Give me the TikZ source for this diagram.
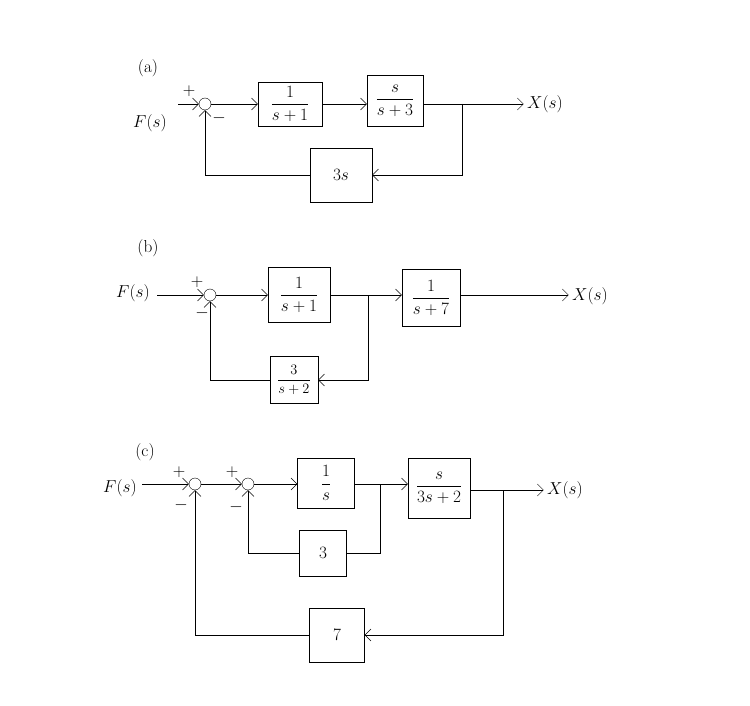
\documentclass[tikz,border=0pt]{standalone}
\usepackage{amsmath}
\usetikzlibrary{positioning, arrows.meta}
\begin{document}
\begin{tikzpicture}[x=1pt,y=-1pt,font=\LARGE]
\tikzstyle{blk} = [draw, minimum width=58pt, minimum height=50pt, inner sep=1pt, font=\LARGE]
\tikzstyle{sum} = [draw, shape=circle, minimum size=12pt, inner sep=0pt]
\tikzstyle{sig} = [-{Straight Barb[length=6pt,width=12pt]}]
\useasboundingbox (0,0) rectangle (750,706);

% (a)
\node at (148,68) {(a)};
\node (Fa) at (150,123) {$F(s)$};
\coordinate (ina) at (178,104);
\node (sa) [sum] at (205,104) {};
\node at (189,91) {$+$};
\node at (219,118) {$-$};
\node (a1) [blk, minimum width=64pt, minimum height=44pt] at (290,104) {$\dfrac{1}{s+1}$};
\node (a2) [blk, minimum width=56pt, minimum height=51pt] at (395,101) {$\dfrac{s}{s+3}$};
\node (a3) [blk, minimum width=62pt, minimum height=54pt] at (341,175) {$3s$};
\node (Xa) at (545,104) {$X(s)$};
\coordinate (ba) at (462,104);
  \draw [sig] (ina) -- (sa);
  \draw [sig] (sa) -- (a1);
  \draw [sig] (a1) -- (a1 -| a2.west);
  \draw [sig] (a1 -| a2.east) -- (Xa);
  \draw [sig] (ba) |- (a3);
  \draw [sig] (a3.west) -| (sa);

% (b)
\node at (148,248) {(b)};
\node (Fb) at (133,293) {$F(s)$};
\coordinate (inb) at (157,295);
\node (sb) [sum] at (210,295) {};
\node at (197,282) {$+$};
\node at (202,313) {$-$};
\node (b1) [blk, minimum width=62pt, minimum height=55pt] at (299,295) {$\dfrac{1}{s+1}$};
\node (b2) [blk, minimum width=58pt, minimum height=57pt] at (431,298) {$\dfrac{1}{s+7}$};
\node (b3) [blk, minimum width=48pt, minimum height=47pt, font=\Large] at (294,380) {$\dfrac{3}{s+2}$};
\node (Xb) at (590,296) {$X(s)$};
\coordinate (bb) at (368,295);
  \draw [sig] (inb) -- (sb);
  \draw [sig] (sb) -- (b1);
  \draw [sig] (b1) -- (b1 -| b2.west);
  \draw [sig] (b1 -| b2.east) -- (Xb.west |- b1);
  \draw [sig] (bb) |- (b3);
  \draw [sig] (b3.west) -| (sb);

% (c)
\node at (145,452) {(c)};
\node (Fc) at (120,488) {$F(s)$};
\coordinate (inc) at (142,484);
\node (c1s) [sum] at (195,484) {};
\node (c2s) [sum] at (248,484) {};
\node at (179,472) {$+$};
\node at (181,505) {$-$};
\node at (232,472) {$+$};
\node at (236,507) {$-$};
\node (c1) [blk, minimum width=57pt, minimum height=50pt] at (326,483) {$\dfrac{1}{s}$};
\node (c2) [blk, minimum width=62pt, minimum height=60pt] at (439,488) {$\dfrac{s}{3s+2}$};
\node (c3) [blk, minimum width=47pt, minimum height=46pt] at (323,553) {$3$};
\node (c4) [blk, minimum width=55pt, minimum height=54pt] at (337,635) {$7$};
\node (Xc) at (565,490) {$X(s)$};
\coordinate (bc1) at (380,484);
\coordinate (bc2) at (503,490);
  \draw [sig] (inc) -- (c1s);
  \draw [sig] (c1s) -- (c2s);
  \draw [sig] (c2s) -- (c2s -| c1.west);
  \draw [sig] (c1.east |- c2s) -- (c2s -| c2.west);
  \draw [sig] (c2.east |- bc2) -- (Xc);
  \draw (bc1) |- (c3);
  \draw [sig] (c3.west) -| (c2s);
  \draw [sig] (bc2) |- (c4);
  \draw [sig] (c4.west) -| (c1s);
\end{tikzpicture}
\end{document}
